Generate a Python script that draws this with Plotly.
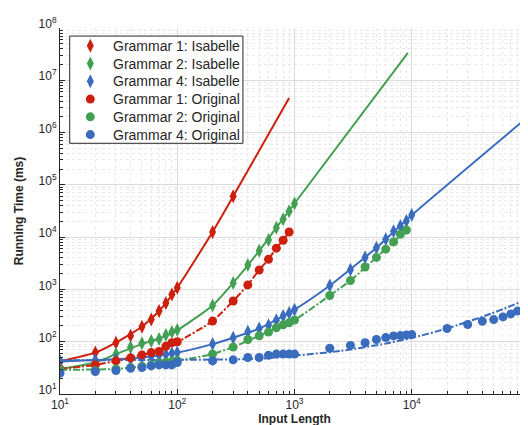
import plotly.graph_objects as go

# ---- data ----
x_small = [10, 20, 30, 40, 50, 60, 70, 80, 90, 100]
x_mid = [200, 300, 400, 500, 600, 700, 800, 900, 1000]
x_large = [2000, 3000, 4000, 5000, 6000, 7000, 8000, 9000, 10000]
x_huge = [20000, 30000, 40000, 50000, 60000, 70000, 80000, 90000]

g1_isa_x = x_small + [200, 300]
g1_isa_y = [42, 62, 96, 130, 193, 265, 387, 550, 802, 1076, 12570, 60500]

g1_orig_x = x_small + x_mid[:-1]
g1_orig_y = [30, 36, 43, 49, 56, 62, 65, 82, 96, 100,
             248, 600, 1222, 2355, 3760, 6165, 8720, 12560]

g2_isa_x = x_small + x_mid
g2_isa_y = [30, 40, 58, 78, 93, 103, 113, 135, 153, 168,
            494, 1334, 2930, 5475, 8850, 15200, 21870, 31400, 44000]

g2_orig_x = x_small + x_mid + x_large[:-1]
g2_orig_y = [29, 28, 30, 32, 33.5, 36, 38.7, 40.5, 41.7, 43.6,
             58, 79, 110, 130, 153, 185, 210, 230, 259,
             766, 1475, 2685, 4100, 5890, 8110, 11350, 13700]

g4_isa_x = x_small + x_mid + x_large
g4_isa_y = [42, 44, 46, 48, 50, 52, 55, 57, 60, 62,
            90, 119, 155, 178, 206, 257, 311, 355, 410,
            1186, 2390, 4100, 6240, 9120, 12940, 16300, 20300, 26400]

g4_orig_x = x_small + x_mid + x_large + x_huge
g4_orig_y = [25, 27, 28, 31, 32, 34.5, 36, 36, 36, 40,
             43, 45, 50, 50, 55, 58, 58, 58, 58,
             75, 85, 96, 110, 120, 129, 131, 135, 137,
             179, 213, 246, 265, 298, 340, 387, 416]

# fitted curves
fit1_isa_x = [10, 20, 30, 50, 70, 100, 200, 300, 900]
fit1_isa_y = [42, 62, 96, 193, 387, 1076, 12570, 60500, 4570000]
fit1_orig_x = [10, 20, 30, 50, 70, 100, 200, 300, 400, 500, 600, 700, 800, 900]
fit1_orig_y = [30, 36, 43, 56, 66, 98, 248, 600, 1222, 2355, 3760, 6165, 8720, 12560]

fit2_isa_x = [10, 20, 30, 50, 70, 100, 200, 300, 500, 700, 1000, 9270]
fit2_isa_y = [30, 40, 58, 90, 115, 165, 494, 1334, 5475, 15200, 44000, 33300000]
fit2_orig_x = [10, 30, 50, 100, 200, 300, 500, 700, 1000, 2000, 3000, 5000, 7000, 9000]
fit2_orig_y = [29, 30, 34, 43, 58, 79, 130, 185, 259, 766, 1475, 4100, 8110, 13700]

fit4_isa_x = [10, 30, 50, 100, 200, 300, 500, 1000, 2000, 5000, 10000, 92700]
fit4_isa_y = [42, 46, 50, 62, 90, 119, 178, 410, 1186, 6240, 26400, 1800000]
fit4_orig_x = [10, 100, 500, 1000, 2500, 6000, 10000, 20000, 47500, 91600]
fit4_orig_y = [44, 45, 47, 54, 67, 92, 118, 179, 344, 615]

decades = [10, 100, 1000, 10000, 100000, 1000000, 10000000, 100000000]
decade_labels = ["10<sup>%d</sup>" % k for k in range(1, 9)]

legend_names = ["Grammar 1: Isabelle", "Grammar 2: Isabelle", "Grammar 4: Isabelle",
                "Grammar 1: Original", "Grammar 2: Original", "Grammar 4: Original"]

RED, GREEN, BLUE = "#CC1F0E", "#43A052", "#3A6CBE"
DASH = "7px,2px,2px,2px"
FONT = "Liberation Sans, Arial, sans-serif"
TXT = "#262626"

fig = go.Figure()

# fit lines
for fx, fy, col, dash in [
    (fit1_isa_x, fit1_isa_y, RED, "solid"),
    (fit2_isa_x, fit2_isa_y, GREEN, "solid"),
    (fit4_isa_x, fit4_isa_y, BLUE, "solid"),
    (fit1_orig_x, fit1_orig_y, RED, DASH),
    (fit2_orig_x, fit2_orig_y, GREEN, DASH),
    (fit4_orig_x, fit4_orig_y, BLUE, DASH),
]:
    fig.add_trace(go.Scatter(x=fx, y=fy, mode="lines", showlegend=False,
                             hoverinfo="skip",
                             line=dict(color=col, width=2, dash=dash, shape="spline",
                                       smoothing=0.5)))

series = [
    (legend_names[0], g1_isa_x, g1_isa_y, RED, "diamond-tall"),
    (legend_names[1], g2_isa_x, g2_isa_y, GREEN, "diamond-tall"),
    (legend_names[2], g4_isa_x, g4_isa_y, BLUE, "diamond-tall"),
    (legend_names[3], g1_orig_x, g1_orig_y, RED, "circle"),
    (legend_names[4], g2_orig_x, g2_orig_y, GREEN, "circle"),
    (legend_names[5], g4_orig_x, g4_orig_y, BLUE, "circle"),
]
for name, sx, sy, col, sym in series:
    fig.add_trace(go.Scatter(x=sx, y=sy, mode="markers", name=name, showlegend=False,
                             marker=dict(color=col, symbol=sym,
                                         size=10 if sym != "circle" else 9,
                                         line=dict(width=0))))

# ---- legend box (drawn on an overlay 0..1 axis pair) ----
box_x0, box_x1, box_y0, box_y1 = 0.0207, 0.390, 0.685, 0.978
row_y = [0.9512, 0.9027, 0.8542, 0.8057, 0.7572, 0.7087]
sym_x, txt_x = 0.0646, 0.1094

fig.add_trace(go.Scatter(x=[box_x0, box_x1, box_x1, box_x0, box_x0],
                         y=[box_y0, box_y0, box_y1, box_y1, box_y0],
                         xaxis="x2", yaxis="y2", mode="lines", fill="toself",
                         fillcolor="white", line=dict(color=TXT, width=1),
                         showlegend=False, hoverinfo="skip"))
for (name, _, _, col, sym), ry in zip(series, row_y):
    fig.add_trace(go.Scatter(x=[sym_x], y=[ry], xaxis="x2", yaxis="y2", mode="markers",
                             marker=dict(color=col, symbol=sym,
                                         size=10 if sym != "circle" else 9),
                             showlegend=False, hoverinfo="skip"))
    fig.add_annotation(x=txt_x, y=ry, xref="paper", yref="paper", text=name,
                       showarrow=False, xanchor="left", yanchor="middle",
                       font=dict(family=FONT, size=14, color=TXT))

minor_vals = [m * d for d in [10, 100, 1000, 10000] for m in range(2, 10)]
minor_vals_y = [m * d for d in decades[:-1] for m in range(2, 10)]

axis_common = dict(
    type="log", tickmode="array",
    showline=True, linecolor=TXT, linewidth=1, mirror=False,
    ticks="inside", ticklen=5, tickcolor=TXT,
    tickfont=dict(family=FONT, size=12, color=TXT),
    showgrid=True, gridcolor="#DCDCDC", gridwidth=1,
    zeroline=False,
)

fig.update_xaxes(**axis_common, range=[1, 5],
                 tickvals=decades[:5], ticktext=decade_labels[:5],
                 minor=dict(tickmode="array", tickvals=minor_vals, ticks="inside",
                            ticklen=3, tickcolor=TXT, showgrid=True,
                            gridcolor="#E9E9E9", griddash="dot", gridwidth=1),
                 title=dict(text="<b>Input Length</b>", standoff=0,
                            font=dict(family=FONT, size=12, color=TXT)))
fig.update_yaxes(**axis_common, range=[1, 8],
                 tickvals=decades, ticktext=decade_labels, ticklabelshift=-4,
                 minor=dict(tickmode="array", tickvals=minor_vals_y, ticks="inside",
                            ticklen=3, tickcolor=TXT, showgrid=True,
                            gridcolor="#E9E9E9", griddash="dot", gridwidth=1),
                 title=dict(text="<b>Running Time (ms)</b>", standoff=12,
                            font=dict(family=FONT, size=12, color=TXT)))

fig.update_layout(
    width=528, height=425,
    margin=dict(l=52, r=7, t=17, b=39),
    paper_bgcolor="white", plot_bgcolor="white",
    font=dict(family=FONT, color=TXT),
    showlegend=False,
    xaxis2=dict(overlaying="x", range=[0, 1], visible=False, fixedrange=True),
    yaxis2=dict(overlaying="y", range=[0, 1], visible=False, fixedrange=True),
)

fig.write_html("out.html")
